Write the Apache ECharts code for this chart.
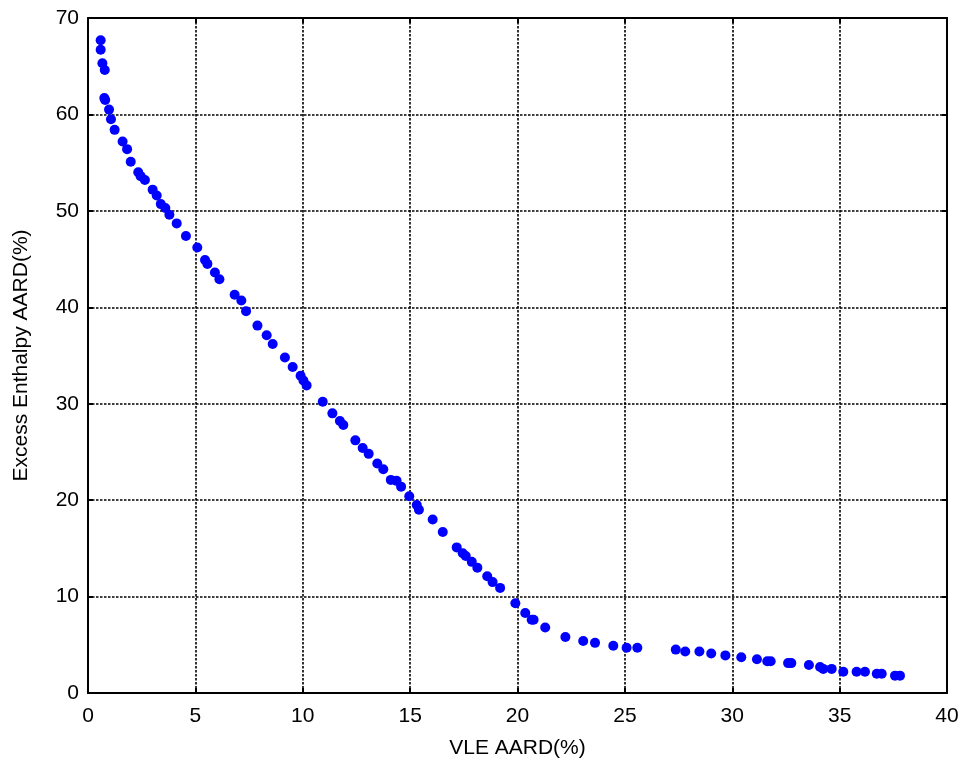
<!DOCTYPE html>
<html><head><meta charset="utf-8">
<script src="https://cdn.jsdelivr.net/npm/echarts@6/dist/echarts.min.js"></script>
<style>html,body{margin:0;padding:0;background:#fff}#c{width:967px;height:769px}</style>
</head><body><div id="c"></div>
<script>
const vleAARD = [0.59,0.59,0.67,0.78,0.76,0.80,0.98,1.07,1.24,1.61,1.82,1.99,2.34,2.45,2.65,3.01,3.20,3.39,3.60,3.79,4.13,4.56,5.09,5.45,5.56,5.91,6.12,6.83,7.14,7.36,7.89,8.32,8.60,9.17,9.53,9.90,10.03,10.18,10.93,11.38,11.73,11.89,12.45,12.79,13.07,13.47,13.75,14.10,14.37,14.58,14.96,15.31,15.41,16.05,16.52,17.17,17.45,17.59,17.87,18.13,18.59,18.84,19.19,19.90,20.36,20.66,20.75,21.29,22.23,23.06,23.61,24.46,25.08,25.58,27.37,27.81,28.47,29.02,29.68,30.42,31.15,31.63,31.79,32.60,32.75,33.57,34.09,34.24,34.63,35.17,35.79,36.18,36.73,36.96,37.58,37.81];
const hEAARD = [67.7,66.7,65.3,64.6,61.7,61.5,60.5,59.5,58.4,57.2,56.4,55.1,54.0,53.6,53.2,52.2,51.6,50.7,50.3,49.6,48.7,47.4,46.2,44.9,44.5,43.6,42.9,41.3,40.7,39.6,38.1,37.1,36.2,34.8,33.8,32.9,32.4,31.9,30.2,29.0,28.2,27.8,26.2,25.4,24.8,23.8,23.2,22.1,22.0,21.4,20.4,19.5,19.0,18.0,16.7,15.1,14.5,14.2,13.6,13.0,12.1,11.5,10.9,9.3,8.3,7.6,7.6,6.8,5.8,5.4,5.2,4.9,4.7,4.7,4.5,4.3,4.3,4.1,3.9,3.7,3.5,3.3,3.3,3.1,3.1,2.9,2.7,2.5,2.5,2.2,2.2,2.2,2.0,2.0,1.8,1.8];
const xTicks = [0,5,10,15,20,25,30,35,40];
const yTicks = [0,10,20,30,40,50,60,70];
const xName = 'VLE AARD(%)';
const yName = 'Excess Enthalpy AARD(%)';

const pts = vleAARD.map((v,i)=>[v,hEAARD[i]]);
const font = 'Liberation Sans, Arial, sans-serif';
const gridLine = {show:true,lineStyle:{color:'#000',type:[2.5,1.5],width:1.6}};
const axisLine = {show:true,onZero:false,lineStyle:{color:'#000',width:2}};
const tick = {show:true,inside:true,length:5,lineStyle:{color:'#000',width:2}};
const chart = echarts.init(document.getElementById('c'));
chart.setOption({
  animation:false,
  backgroundColor:'#fff',
  grid:{left:88,right:20,top:18,bottom:76},
  xAxis:[{
    type:'value',min:xTicks[0],max:xTicks[xTicks.length-1],interval:5,
    name:xName,nameLocation:'middle',nameGap:45,
    nameTextStyle:{fontFamily:font,fontSize:21,color:'#000'},
    axisLine:axisLine,axisTick:tick,splitLine:gridLine,
    axisLabel:{fontFamily:font,fontSize:21,color:'#000',margin:13}
  },{
    type:'value',position:'top',min:xTicks[0],max:xTicks[xTicks.length-1],interval:5,
    axisLine:axisLine,axisTick:tick,splitLine:{show:false},axisLabel:{show:false}
  }],
  yAxis:[{
    type:'value',min:yTicks[0],max:yTicks[yTicks.length-1],interval:10,
    name:yName,nameLocation:'middle',nameGap:56,
    nameTextStyle:{fontFamily:font,fontSize:21,color:'#000'},
    axisLine:axisLine,axisTick:tick,splitLine:gridLine,
    axisLabel:{fontFamily:font,fontSize:21,color:'#000',margin:9}
  },{
    type:'value',position:'right',min:yTicks[0],max:yTicks[yTicks.length-1],interval:10,
    axisLine:axisLine,axisTick:tick,splitLine:{show:false},axisLabel:{show:false}
  }],
  series:[{
    type:'scatter',data:pts,symbol:'circle',symbolSize:10,
    itemStyle:{color:'#0000ff',opacity:1}
  }]
});
</script></body></html>
